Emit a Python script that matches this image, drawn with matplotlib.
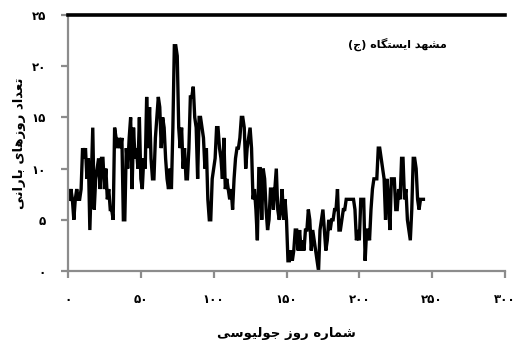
import matplotlib
matplotlib.use("Agg")
import matplotlib.pyplot as plt
from matplotlib.ticker import FuncFormatter

# ---------------- data ----------------
days_values = [
    7, 8, 7, 5, 7, 8, 7, 7, 8, 12,
    11, 12, 9, 11, 4, 9, 14, 6, 9, 10,
    11, 8, 11, 11, 8, 10, 7, 8, 6, 6,
    5, 14, 13, 12, 13, 12, 13, 5, 5, 12,
    10, 13, 15, 8, 14, 11, 12, 10, 15, 9,
    8, 11, 10, 17, 12, 16, 11, 9, 9, 13,
    15, 17, 16, 12, 15, 14, 11, 9, 8, 10,
    8, 14, 22, 22, 21, 14, 12, 14, 10, 12,
    9, 9, 12, 17, 17, 18, 15, 14, 9, 15,
    15, 14, 13, 10, 12, 7, 5, 5, 9, 10,
    11, 14, 14, 12, 11, 9, 13, 8, 9, 8,
    7, 8, 6, 9, 11, 12, 12, 13, 15, 15,
    14, 10, 12, 13, 14, 12, 7, 8, 6, 3,
    10, 10, 5, 10, 9, 6, 4, 5, 8, 8,
    6, 8, 10, 6, 5, 6, 8, 5, 7, 5,
    1, 1, 2, 1, 2, 4, 4, 2, 4, 2,
    3, 2, 4, 4, 6, 5, 2, 4, 3, 2,
    1, 0, 4, 5, 6, 4, 2, 3, 5, 4,
    5, 5, 6, 6, 8, 4, 4, 5, 6, 6,
    7, 7, 7, 7, 7, 7, 6, 3, 4, 3,
    7, 7, 7, 1, 4, 4, 3, 6, 8, 9,
    9, 9, 12, 12, 11, 10, 9, 5, 9, 7,
    4, 9, 9, 9, 6, 6, 8, 7, 11, 11,
    7, 8, 5, 4, 3, 6, 11, 11, 10, 7,
    6, 7, 7, 7,
]
days = list(range(1, len(days_values) + 1))

x_ticks = [0, 50, 100, 150, 200, 250, 300]
y_ticks = [0, 5, 10, 15, 20, 25]
title_words = ["(ج)", "ایستگاه", "مشهد"]
x_label = "شماره روز جولیوسی"
y_label = "تعداد روزهای بارانی"

# ---------------- minimal Persian shaping ----------------
FORMS = {
    'ا': ('\uFE8D', '\uFE8E', None, None),
    'ب': ('\uFE8F', '\uFE90', '\uFE91', '\uFE92'),
    'ت': ('\uFE95', '\uFE96', '\uFE97', '\uFE98'),
    'ج': ('\uFE9D', '\uFE9E', '\uFE9F', '\uFEA0'),
    'د': ('\uFEA9', '\uFEAA', None, None),
    'ر': ('\uFEAD', '\uFEAE', None, None),
    'ز': ('\uFEAF', '\uFEB0', None, None),
    'س': ('\uFEB1', '\uFEB2', '\uFEB3', '\uFEB4'),
    'ش': ('\uFEB5', '\uFEB6', '\uFEB7', '\uFEB8'),
    'ع': ('\uFEC9', '\uFECA', '\uFECB', '\uFECC'),
    'گ': ('\uFB92', '\uFB93', '\uFB94', '\uFB95'),
    'ل': ('\uFEDD', '\uFEDE', '\uFEDF', '\uFEE0'),
    'م': ('\uFEE1', '\uFEE2', '\uFEE3', '\uFEE4'),
    'ن': ('\uFEE5', '\uFEE6', '\uFEE7', '\uFEE8'),
    'ه': ('\uFEE9', '\uFEEA', '\uFEEB', '\uFEEC'),
    'و': ('\uFEED', '\uFEEE', None, None),
    'ی': ('\uFBFC', '\uFBFD', '\uFBFE', '\uFBFF'),
}


def shape_word(w):
    out = []
    n = len(w)
    for i, c in enumerate(w):
        if c not in FORMS:
            out.append(c)
            continue
        iso, fin, ini, med = FORMS[c]
        prev = w[i - 1] if i > 0 else None
        nxt = w[i + 1] if i < n - 1 else None
        jp = prev in FORMS and FORMS[prev][2] is not None
        jn = nxt in FORMS and ini is not None
        if jp and jn:
            out.append(med)
        elif jp:
            out.append(fin)
        elif jn:
            out.append(ini)
        else:
            out.append(iso)
    return ''.join(reversed(out))


def rtl(text):
    return ' '.join(shape_word(w) for w in reversed(text.split(' ')))


def shape_token(tok):
    if tok.startswith('(') and tok.endswith(')'):
        return '(' + shape_word(tok[1:-1]) + ')'
    return shape_word(tok)


PERSIAN_DIGITS = str.maketrans('0123456789', '۰۱۲۳۴۵۶۷۸۹')


def fa_num(v, pos=None):
    return str(int(round(v))).translate(PERSIAN_DIGITS)


# ---------------- figure ----------------
plt.rcParams['font.family'] = ['DejaVu Sans']
fig = plt.figure(figsize=(5.17, 3.5), dpi=100)
ax = fig.add_axes([68 / 517, 1 - 271 / 350, (505 - 68) / 517, (271 - 15) / 350])

ax.plot(days, days_values, color='black', linewidth=2.4, solid_joinstyle='miter')

ax.set_xlim(0, 300)
ax.set_ylim(0, 25)
ax.set_xticks(x_ticks)
ax.set_yticks(y_ticks)
ax.xaxis.set_major_formatter(FuncFormatter(fa_num))
ax.yaxis.set_major_formatter(FuncFormatter(fa_num))

ax.spines['right'].set_visible(False)
ax.spines['top'].set_color('black')
ax.spines['top'].set_linewidth(2.6)
for s in ['left', 'bottom']:
    ax.spines[s].set_color('#8c8c8c')
    ax.spines[s].set_linewidth(1.6)

ax.tick_params(axis='both', direction='out', color='#8c8c8c', width=1.6, length=5,
               labelsize=8.5, labelcolor='black')
ax.tick_params(axis='x', pad=11)
ax.tick_params(axis='y', pad=11)
for lab in ax.get_xticklabels() + ax.get_yticklabels():
    lab.set_fontweight('bold')

ax.set_xlabel(rtl(x_label), fontsize=9.5, fontweight='bold', labelpad=15)
ax.set_ylabel(rtl(y_label), fontsize=9.5, fontweight='bold', labelpad=4)

title_txt = ' '.join(shape_token(t) for t in title_words)
ax.text(0.867, 0.885, title_txt, transform=ax.transAxes, ha='right', va='center',
        fontsize=8, fontweight='bold', color='black')

fig.savefig('out.png', dpi=100)
